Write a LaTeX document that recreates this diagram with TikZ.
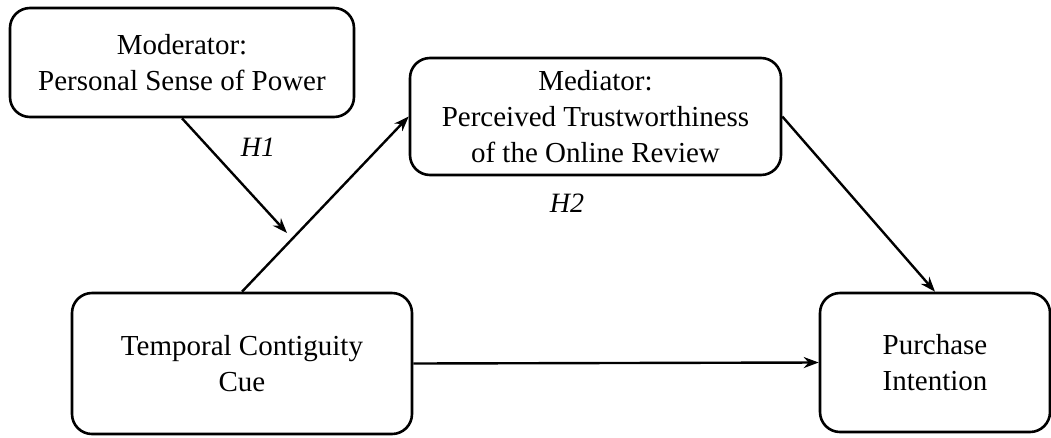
\documentclass[tikz,border=0pt]{standalone}
\usepackage{fontspec}
\setmainfont{Liberation Serif}
\usetikzlibrary{arrows.meta}

\begin{document}
\begin{tikzpicture}[x=1pt,y=-1pt,
  box/.style={draw, line width=2.6pt, rounded corners=20pt, align=center,
    inner sep=0pt, font=\fontsize{29}{36}\selectfont,
    execute at begin node={\rule{0pt}{36pt}}},
  arr/.style={-{Stealth[length=15pt,width=11pt]}, line width=2.4pt},
  hyp/.style={font=\fontsize{28}{32}\selectfont\itshape}]

\useasboundingbox (0,0) rectangle (1051,437);

% Boxes
\node[box, minimum width=344pt, minimum height=109pt] (mod) at (182,62.5)
  {Moderator:\\Personal Sense of Power};
\node[box, minimum width=371pt, minimum height=117pt] (med) at (595.5,116.5)
  {Mediator:\\Perceived Trustworthiness\\of the Online Review};
\node[box, minimum width=340pt, minimum height=141pt] (temp) at (242,363.5)
  {Temporal Contiguity\\Cue};
\node[box, minimum width=230pt, minimum height=139pt] (pur) at (935,362.5)
  {Purchase\\Intention};

% Arrows
\coordinate (h1tip) at (287,233);
\draw[arr] (temp.north) -- (med.west);
\draw[arr] (mod.south) -- (h1tip);
\draw[arr] (med.east) -- (pur.north);
\draw[arr] (temp.east) -- (pur.west);

% Labels
\node[hyp] (h1) at (258,147) {H1};
\node[hyp] (h2) at (567,203) {H2};

\end{tikzpicture}
\end{document}
